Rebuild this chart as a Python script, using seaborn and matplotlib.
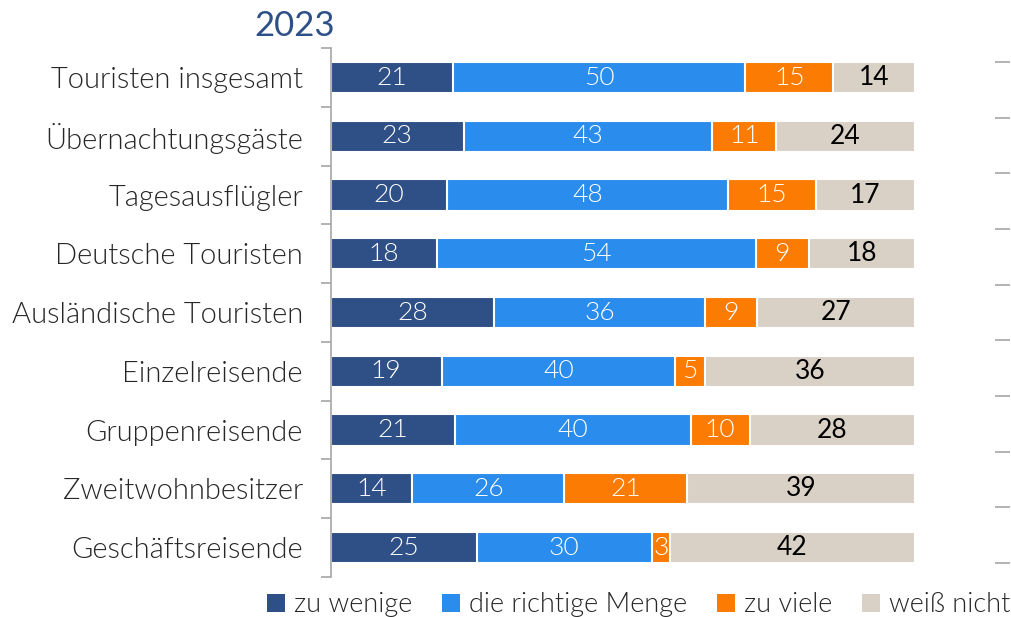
import numpy as np
import pandas as pd
import matplotlib
matplotlib.use('Agg')
import matplotlib.pyplot as plt
from matplotlib.patches import Patch
import seaborn as sns

# ----------------------------------------------------------------------
# Daten
# ----------------------------------------------------------------------

categories = [
    'Touristen insgesamt',
    'Übernachtungsgäste',
    'Tagesausflügler',
    'Deutsche Touristen',
    'Ausländische Touristen',
    'Einzelreisende',
    'Gruppenreisende',
    'Zweitwohnbesitzer',
    'Geschäftsreisende'
]

zu_wenige = [21, 23, 20, 18, 28, 19, 21, 14, 25]
richtige_menge = [50, 43, 48, 54, 36, 40, 40, 26, 30]
zu_viele = [15, 11, 15, 9, 9, 5, 10, 21, 3]
weiss_nicht = [14, 24, 17, 18, 27, 36, 28, 39, 42]

series_names = ['zu wenige', 'die richtige Menge', 'zu viele', 'weiß nicht']
series_values = [zu_wenige, richtige_menge, zu_viele, weiss_nicht]
colors = ['#2F5086', '#2A8CEC', '#FC7B02', '#D9D0C6']
text_colors = ['white', 'white', 'white', 'black']
text_weights = [300, 300, 300, 400]

title = '2023'

# ----------------------------------------------------------------------
# Stil
# ----------------------------------------------------------------------

sns.set_theme(style='white')
plt.rcParams['font.family'] = ['Lato', 'DejaVu Sans']

df = pd.DataFrame(dict(zip(series_names, series_values)), index=categories)
# gerundete Werte ergeben nicht immer 100 -> Balken auf 100 % normieren
share = df.div(df.sum(axis=1), axis=0) * 100
cum = share.cumsum(axis=1)
starts = cum - share

fig = plt.figure(figsize=(10.11, 6.17), dpi=100)
ax = fig.add_axes([0.327, 0.065, 0.578, 0.857])

# gestapelte Balken: von der längsten kumulierten Summe zur kürzesten
for name, color in reversed(list(zip(series_names, colors))):
    sns.barplot(
        x=cum[name].values,
        y=categories,
        orient='h',
        color=color,
        width=0.53,
        edgecolor='white',
        linewidth=1.5,
        saturation=1,
        ax=ax
    )

# Beschriftungen in den Segmenten
for j, name in enumerate(series_names):
    for i, cat in enumerate(categories):
        ax.text(
            starts.loc[cat, name] + share.loc[cat, name] / 2,
            i,
            str(df.loc[cat, name]),
            ha='center',
            va='center',
            color=text_colors[j],
            fontsize=19,
            fontweight=text_weights[j]
        )

ax.set_xlim(0, 100)
ax.set_ylim(len(categories) - 0.5, -0.5)
ax.set_xticks([])
ax.set_xlabel('')
ax.set_ylabel('')

for side in ['top', 'right', 'bottom']:
    ax.spines[side].set_visible(False)
ax.spines['left'].set_color('#A6A6A6')
ax.spines['left'].set_linewidth(1.2)

ax.set_yticks(np.arange(len(categories)))
ax.set_yticklabels(categories, fontsize=21, fontweight=300, color='#262626')
ax.set_yticks(np.arange(len(categories) + 1) - 0.5, minor=True)
ax.tick_params(axis='y', which='major', length=0, pad=20)
ax.tick_params(axis='y', which='minor', length=7, width=1.2,
               color='#A6A6A6', left=True)

ax.text(0.008, 1.012, title, transform=ax.transAxes, ha='right',
        va='bottom', fontsize=25, color='#2E5088', fontweight=400)

# kleine Markierungen am rechten Rand
ax_r = fig.add_axes([0.984, 1 - 563 / 617, 0.015, 501 / 617])
ax_r.set_ylim(0, 1)
ax_r.set_xticks([])
ax_r.set_yticks(np.linspace(0, 1, 10))
ax_r.set_yticklabels([])
ax_r.tick_params(axis='y', direction='in', length=11, width=1.2,
                 color='#A6A6A6', left=True)
for side in ax_r.spines:
    ax_r.spines[side].set_visible(False)
ax_r.patch.set_alpha(0)

handles = [Patch(facecolor=c, edgecolor='none') for c in colors]
fig.legend(
    handles,
    series_names,
    loc='lower center',
    bbox_to_anchor=(0.632, -0.04),
    ncol=4,
    frameon=False,
    handlelength=0.65,
    handleheight=0.65,
    handletextpad=0.35,
    columnspacing=1.1,
    labelcolor='#262626',
    prop={'weight': 300, 'size': 19.5}
)

fig.savefig('out.png', dpi=100)
